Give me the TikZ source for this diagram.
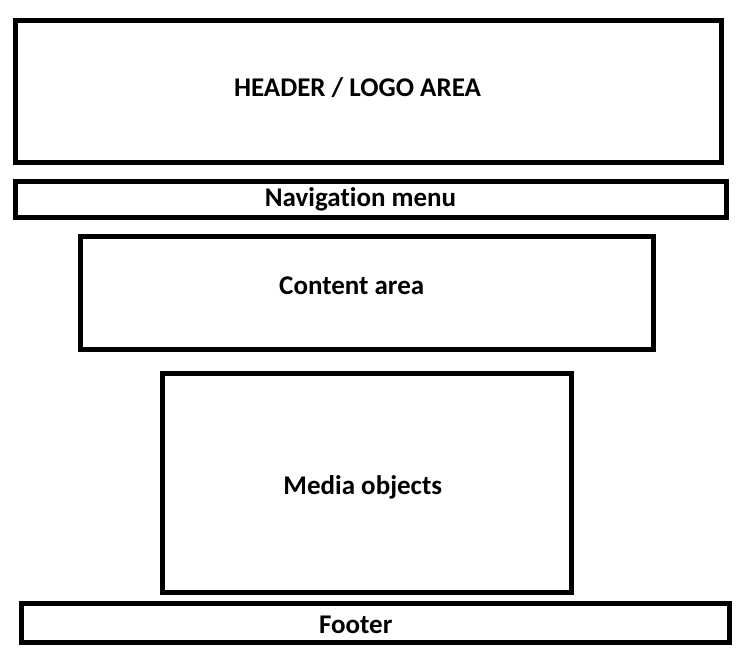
\documentclass[tikz,border=0pt]{standalone}
\usepackage{fontspec}
\setmainfont{Carlito}[Ligatures=NoCommon]
\usepackage{tikz}
\tikzset{b/.style={draw,line width=5pt,rectangle,inner sep=0pt}}
\tikzset{l/.style={font=\fontsize{27}{27}\selectfont\bfseries,anchor=base,inner sep=0pt}}

\begin{document}
\begin{tikzpicture}[x=1pt,y=-1pt]
            \useasboundingbox (0,0) rectangle (750,648);
            \node[b,minimum width=705.5pt,minimum height=142pt] (H) at (368.25,91.5) {};
            \node[l] (h) at (357.5,96.7) {HEADER / LOGO AREA};
            \node[b,minimum width=711pt,minimum height=36.1pt] (N) at (371,199.35) {};
            \node[l] (n) at (360.5,206.7) {Navigation menu};
            \node[b,minimum width=572.7pt,minimum height=112.8pt] (C) at (366.85,292.9) {};
            \node[l] (c) at (351.7,294) {Content area};
            \node[b,minimum width=408.8pt,minimum height=218.7pt] (M) at (366.9,482.85) {};
            \node[l] (m) at (362.8,494) {Media objects};
            \node[b,minimum width=707.8pt,minimum height=38.8pt] (F) at (375.4,622.9) {};
            \node[l] (f) at (355.7,633.3) {Footer};
          \end{tikzpicture}
\end{document}
